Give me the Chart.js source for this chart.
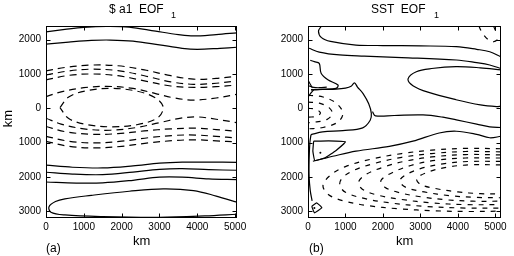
<!DOCTYPE html>
<html><head><meta charset="utf-8">
<script src="https://cdn.jsdelivr.net/npm/chart.js@4.4.1/dist/chart.umd.min.js"></script>
<style>
html,body{margin:0;padding:0;background:#fff;}
#wrap{position:relative;width:514px;height:256px;overflow:hidden;font-family:"Liberation Sans",Arial,sans-serif;color:#000;}
canvas{position:absolute;top:0;}
.t{position:absolute;white-space:pre;line-height:12px;font-size:12px;}
.sub{position:absolute;font-size:9px;line-height:9px;}
.km{position:absolute;font-size:13px;line-height:13px;}
</style></head>
<body><div id="wrap">
<canvas id="c1" width="257" height="256" style="left:0"></canvas>
<canvas id="c2" width="257" height="256" style="left:257px"></canvas>
<div class="t" style="left:109px;top:3px;">$ a1  EOF</div><div class="sub" style="left:171px;top:11px;">1</div>
<div class="t" style="left:371px;top:3px;">SST  EOF</div><div class="sub" style="left:434px;top:11px;">1</div>
<div class="km" style="left:133px;top:234px;">km</div>
<div class="km" style="left:396px;top:234px;">km</div>
<div class="km" style="left:-3px;top:112px;transform:rotate(-90deg);transform-origin:center;width:20px;text-align:center;">km</div>
<div class="t" style="left:46px;top:242px;">(a)</div>
<div class="t" style="left:309px;top:242px;">(b)</div>
</div>
<script>
// ---- tick values ----
const xTickValues = [0, 1000, 2000, 3000, 4000, 5000];
const yTickValues = [-3000, -2000, -1000, 0, 1000, 2000];

// ---- panel (a): $a1 EOF1 contours (x km, y km) ----
const leftSolid = [
  [[0,2230],[500,2300],[1000,2360],[1600,2390],[2200,2370],[2900,2250],[3500,2150],[3900,2110],[4500,2150],[5050,2200]],
  [[0,1870],[600,1930],[1200,1980],[1700,1990],[2300,1960],[3000,1850],[3600,1750],[4000,1720],[4600,1750],[5050,1780]],
  [[0,-1660],[700,-1720],[1500,-1740],[2300,-1680],[3000,-1600],[3600,-1570],[4300,-1570],[5050,-1575]],
  [[0,-1866],[700,-1920],[1500,-1935],[2300,-1860],[3000,-1780],[3600,-1760],[4300,-1790],[5050,-1808]],
  [[0,-2150],[800,-2180],[1500,-2175],[2300,-2100],[3000,-2010],[3600,-2010],[4300,-2060],[5050,-2082]],
  [[5050,-2740],[4500,-2560],[3900,-2400],[3100,-2350],[2200,-2420],[1200,-2540],[500,-2640],[250,-2720],[80,-2870],[130,-3030],[500,-3110],[1500,-3160],[3000,-3180],[4200,-3140],[5050,-3090]]
];
const leftDashed = [
  [[0,1090],[500,1190],[1200,1260],[1900,1240],[2600,1120],[3300,950],[3900,850],[4500,870],[5050,940]],
  [[0,970],[600,1090],[1200,1140],[1900,1100],[2600,950],[3300,770],[3900,700],[4500,730],[5050,800]],
  [[0,830],[600,960],[1200,1000],[1900,950],[2600,800],[3300,650],[3900,610],[4500,630],[5050,680]],
  [[0,340],[400,480],[1000,600],[1600,640],[2300,580],[2900,430],[3400,300],[3900,240],[4500,300],[5050,410]],
  [[370,20],[600,330],[1100,520],[1750,580],[2400,500],[2900,300],[3100,30],[2950,-280],[2400,-480],[1750,-540],[1100,-480],[600,-300],[370,20]],
  [[0,-290],[400,-460],[1000,-600],[1700,-640],[2400,-560],[3000,-420],[3500,-300],[3960,-250],[4500,-320],[5050,-420]],
  [[0,-530],[500,-680],[1200,-760],[1900,-740],[2600,-660],[3300,-600],[3960,-580],[4500,-620],[5050,-671]],
  [[0,-816],[600,-960],[1300,-1010],[2000,-960],[2700,-860],[3400,-790],[3960,-780],[4500,-820],[5050,-866]],
  [[0,-962],[600,-1110],[1300,-1157],[2000,-1110],[2700,-1010],[3400,-940],[3960,-920],[4500,-950],[5050,-983]]
];

// ---- panel (b): SST EOF1 contours ----
const rightSolid = [
  [[360,2400],[280,2250],[360,2060],[600,1950],[1280,1845],[2000,1830],[3000,1820],[3960,1796],[4500,1720],[4850,1650],[5150,1500]],
  [[30,1750],[300,1640],[840,1555],[1500,1520],[2500,1480],[3960,1408],[4500,1330],[4850,1263],[5150,1160]],
  [[5150,1120],[4600,1180],[3950,1215],[3300,1160],[2890,1067],[2670,860],[2800,660],[3200,470],[3950,250],[4600,100],[5030,50],[5150,60]],
  [[80,540],[400,550],[750,560],[1000,590],[1150,640],[1240,740],[1320,620],[1470,430],[1620,130],[1690,-150],[1660,-350],[1460,-570],[930,-650],[390,-690],[80,-770]],
  [[1720,-100],[1800,-220],[2300,-210],[3070,-195],[3600,-260],[3960,-340],[4500,-460],[4850,-540],[5150,-560]],
  [[130,-1545],[400,-1470],[660,-1400],[1280,-1250],[2170,-1110],[2800,-960],[3500,-720],[3960,-670],[4500,-760],[4850,-860],[5150,-816]],
  [[80,-770],[50,-1000],[30,-1500],[30,-2000],[60,-2400],[110,-2700]],
  [[60,1400],[170,1360],[300,1310],[350,1020],[530,830],[800,680],[750,580],[400,555],[80,535]],
  [[0,820],[60,700],[120,590]],
  [[0,330],[80,450],[150,540]],
  [[0,660],[150,610],[300,600],[500,620]]
];
const rightSolidAngular = [
  [[150,-960],[550,-950],[1000,-980],[750,-1230],[450,-1450],[180,-1520],[130,-1250],[150,-960]],
  [[100,-2860],[230,-2760],[370,-2900],[170,-3050],[100,-2860]]
];
const rightDots = [[330,-1300],[170,-2910]];
const rightDashed = [
  [[4560,2400],[4650,2200],[4800,2010],[4950,1940],[5150,2080]],
  [[4950,2400],[5020,2250],[5150,2200]],
  [[0,380],[400,330],[750,150],[930,-140],[800,-400],[400,-560],[0,-600]],
  [[0,180],[300,150],[560,20],[650,-160],[500,-330],[200,-400],[0,-420]],
  [[0,0],[200,-30],[330,-130],[250,-230],[0,-260]],
  [[5150,-1180],[4200,-1170],[3300,-1220],[2500,-1320],[1700,-1480],[1000,-1700],[600,-1950],[400,-2250],[550,-2520],[950,-2700],[1600,-2840],[2400,-2930],[3400,-2990],[4300,-3010],[5150,-3000]],
  [[5150,-1270],[4200,-1260],[3300,-1320],[2500,-1430],[1800,-1600],[1200,-1820],[900,-2050],[850,-2250],[1000,-2450],[1500,-2630],[2200,-2760],[3100,-2860],[4200,-2910],[5150,-2910]],
  [[5150,-1360],[4200,-1350],[3300,-1420],[2600,-1540],[2000,-1720],[1550,-1930],[1350,-2150],[1450,-2360],[1850,-2530],[2500,-2660],[3300,-2760],[4200,-2810],[5150,-2810]],
  [[5150,-1450],[4200,-1450],[3400,-1520],[2800,-1650],[2300,-1850],[1950,-2100],[2050,-2300],[2400,-2450],[3000,-2580],[3700,-2670],[4400,-2710],[5150,-2710]],
  [[5150,-1550],[4300,-1550],[3600,-1620],[3000,-1760],[2600,-1950],[2450,-2120],[2600,-2300],[3100,-2440],[3800,-2550],[4500,-2600],[5150,-2610]],
  [[5150,-1650],[4300,-1650],[3700,-1720],[3200,-1860],[2900,-2050],[3000,-2220],[3400,-2340],[4000,-2440],[4600,-2490],[5150,-2500]]
];

const toPts = line => line.map(p => ({x: p[0], y: p[1]}));

const framePlugin = {
  id: 'frame',
  afterDatasetsDraw(chart) {
    const {ctx, chartArea: a, scales: {x, y}} = chart;
    ctx.save();
    ctx.strokeStyle = '#000';
    ctx.lineWidth = 1;
    const L = Math.round(a.left) + 0.5, R = Math.round(a.right) - 0.5;
    const T = Math.round(a.top) + 0.5, B = Math.round(a.bottom) - 0.5;
    ctx.strokeRect(L, T, R - L, B - T);
    ctx.beginPath();
    xTickValues.forEach(v => {
      const px = Math.round(x.getPixelForValue(v)) + 0.5;
      ctx.moveTo(px, B); ctx.lineTo(px, B - 4);
      ctx.moveTo(px, T); ctx.lineTo(px, T + 4);
    });
    yTickValues.forEach(v => {
      const py = Math.round(y.getPixelForValue(v)) + 0.5;
      ctx.moveTo(L, py); ctx.lineTo(L + 4, py);
      ctx.moveTo(R, py); ctx.lineTo(R - 4, py);
    });
    ctx.stroke();
    ctx.restore();
  }
};

function makeChart(id, solid, angular, dashed, dots, xMax, yWidth, rightPad, dash) {
  const ds = [];
  solid.forEach(l => ds.push({data: toPts(l), showLine: true, borderColor: '#000', borderWidth: 1.2, pointRadius: 0, tension: 0.35, fill: false}));
  angular.forEach(l => ds.push({data: toPts(l), showLine: true, borderColor: '#000', borderWidth: 1.2, pointRadius: 0, tension: 0.1, fill: false}));
  dashed.forEach(l => ds.push({data: toPts(l), showLine: true, borderColor: '#000', borderWidth: 1.2, borderDash: dash, pointRadius: 0, tension: 0.35, fill: false}));
  if (dots.length) ds.push({data: toPts(dots), showLine: false, pointRadius: 1, backgroundColor: '#000', borderWidth: 0});
  const tickFont = {family: 'Liberation Sans', size: 10};
  return new Chart(document.getElementById(id), {
    type: 'scatter',
    data: {datasets: ds},
    options: {
      responsive: false, animation: false, devicePixelRatio: 1,
      plugins: {legend: {display: false}, tooltip: {enabled: false}},
      layout: {padding: {top: 26, right: rightPad, left: 0, bottom: 0}},
      scales: {
        x: {type: 'linear', min: 0, max: xMax,
            afterFit: s => { s.height = 38; },
            afterBuildTicks: s => { s.ticks = xTickValues.map(v => ({value: v})); },
            grid: {display: false, drawTicks: false}, border: {display: false},
            ticks: {font: tickFont, color: '#000', padding: 3, maxRotation: 0, autoSkip: false,
                    callback: v => String(v)}},
        y: {type: 'linear', min: -3200, max: 2400,
            afterFit: s => { s.width = yWidth; },
            afterBuildTicks: s => { s.ticks = yTickValues.map(v => ({value: v})); },
            grid: {display: false, drawTicks: false}, border: {display: false},
            ticks: {font: tickFont, color: '#000', padding: 5, autoSkip: false,
                    callback: v => String(Math.abs(v))}}
      }
    },
    plugins: [framePlugin]
  });
}

makeChart('c1', leftSolid, [], leftDashed, [], 5050, 46, 20, [7, 5]);
makeChart('c2', rightSolid, rightSolidAngular, rightDashed, rightDots, 5150, 51, 13, [5, 6]);
</script>
</body></html>
